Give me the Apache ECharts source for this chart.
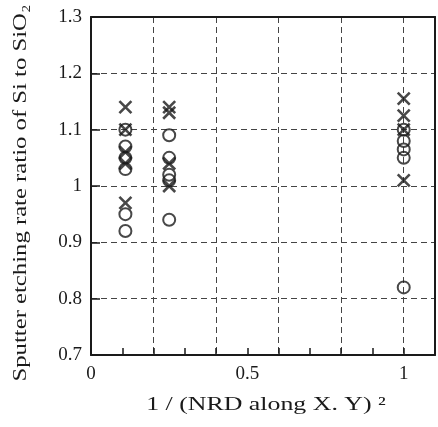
<!DOCTYPE html>
<html><head><meta charset="utf-8">
<script src="https://cdn.jsdelivr.net/npm/echarts@6/dist/echarts.min.js"></script>
<style>html,body{margin:0;padding:0;background:#fff}#c{width:438px;height:427px}</style>
</head><body><div id="c"></div>
<script>
// Data
const circleX = [0.11, 0.11, 0.11, 0.11, 0.11, 0.11, 0.25, 0.25, 0.25, 0.25, 0.25, 1, 1, 1, 1, 1];
const circleY = [1.10, 1.07, 1.05, 1.03, 0.95, 0.92, 1.09, 1.05, 1.02, 1.01, 0.94, 1.10, 1.08, 1.065, 1.05, 0.82];
const crossX = [0.11, 0.11, 0.11, 0.11, 0.11, 0.25, 0.25, 0.25, 0.25, 1, 1, 1, 1];
const crossY = [1.14, 1.10, 1.06, 1.04, 0.97, 1.14, 1.13, 1.04, 1.00, 1.155, 1.125, 1.10, 1.01];
const xTickLabels = {0: '0', 0.5: '0.5', 1: '1'};
const yTickLabels = {0.7: '0.7', 0.8: '0.8', 0.9: '0.9', 1: '1', 1.1: '1.1', 1.2: '1.2', 1.3: '1.3'};
const xTitle = '1 / (NRD along X. Y) ²';
const yTitle = 'Sputter etching rate ratio of Si to SiO₂';

const FONT = 'Liberation Serif';
const INK = '#1a1a1a';
const dashed = {show: true, lineStyle: {color: '#444', width: 1, type: [6, 4]}};
const chart = echarts.init(document.getElementById('c'));
const key = v => Math.round(v * 100) / 100;
chart.setOption({
  animation: false,
  grid: {left: 91, right: 3, top: 17, bottom: 72},
  xAxis: [{
    type: 'value', min: 0, max: 1.1, interval: 0.1, position: 'bottom',
    axisLine: {show: true, onZero: false, lineStyle: {color: INK, width: 2}},
    axisTick: {show: true, inside: true, length: 7, lineStyle: {color: INK, width: 1.5}},
    axisLabel: {color: INK, fontFamily: FONT, fontSize: 19, margin: 10,
      formatter: v => xTickLabels[key(v)] !== undefined ? xTickLabels[key(v)] : ''},
    splitLine: {show: false}
  }, {
    type: 'value', min: 0, max: 1.1, interval: 0.2, position: 'top',
    axisLine: {show: true, onZero: false, lineStyle: {color: INK, width: 2}},
    axisTick: {show: false}, axisLabel: {show: false},
    splitLine: dashed
  }],
  yAxis: [{
    type: 'value', min: 0.7, max: 1.3, interval: 0.1, position: 'left',
    axisLine: {show: true, onZero: false, lineStyle: {color: INK, width: 2}},
    axisTick: {show: true, inside: true, length: 9, lineStyle: {color: INK, width: 1.5}},
    axisLabel: {color: INK, fontFamily: FONT, fontSize: 19, margin: 9,
      formatter: v => yTickLabels[key(v)] || ''},
    splitLine: dashed
  }, {
    type: 'value', min: 0.7, max: 1.3, interval: 0.1, position: 'right',
    axisLine: {show: true, onZero: false, lineStyle: {color: INK, width: 2}},
    axisTick: {show: false}, axisLabel: {show: false}, splitLine: {show: false}
  }],
  series: [{
    type: 'scatter', xAxisIndex: 0, yAxisIndex: 0,
    data: circleX.map((x, i) => [x, circleY[i]]),
    symbol: 'circle', symbolSize: 12,
    itemStyle: {color: 'rgba(255,255,255,0)', borderColor: INK, borderWidth: 2}
  }, {
    type: 'scatter', xAxisIndex: 0, yAxisIndex: 0,
    data: crossX.map((x, i) => [x, crossY[i]]),
    symbol: 'path://M0,0L10,10M10,0L0,10', symbolSize: 12,
    itemStyle: {color: 'none', borderColor: INK, borderWidth: 2.6}
  }],
  graphic: [{
    type: 'text',
    style: {text: yTitle, fontFamily: FONT, fontSize: 19, fill: INK, align: 'center', verticalAlign: 'middle'},
    x: 21, y: 193, rotation: Math.PI / 2, scaleX: 1.3
  }, {
    type: 'text',
    style: {text: xTitle, fontFamily: FONT, fontSize: 19, fill: INK, align: 'center', verticalAlign: 'middle'},
    x: 266, y: 405, scaleX: 1.36
  }]
});
</script></body></html>
